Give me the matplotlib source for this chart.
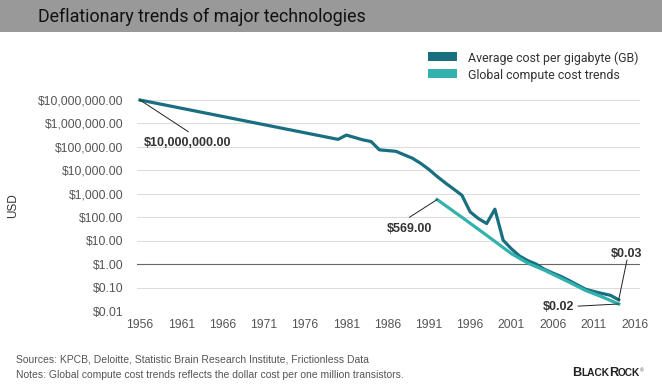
import numpy as np
import matplotlib.pyplot as plt
from matplotlib.patches import FancyBboxPatch, Rectangle

# data
gb_years = [1956, 1980, 1981, 1983, 1984, 1985, 1987, 1989, 1990, 1991, 1992, 1993, 1994,
            1995, 1996, 1997, 1998, 1999, 2000, 2001, 2002, 2003, 2004, 2005, 2006, 2007,
            2008, 2009, 2010, 2011, 2012, 2013, 2014]
gb_cost = [10000000, 210000, 320000, 200000, 170000, 75000, 65000, 33000, 20000, 11000, 5500,
           2900, 1600, 870, 170, 88, 54, 220, 10.5, 4.5, 2.2, 1.4, 1.0, 0.6, 0.42, 0.3,
           0.2, 0.13, 0.085, 0.068, 0.056, 0.047, 0.03]
cpu_years = [1992, 1995, 1998, 2001, 2003, 2005, 2008, 2010, 2012, 2014]
cpu_cost = [569, 100, 17, 2.8, 1.1, 0.55, 0.17, 0.075, 0.04, 0.02]

y_ticks = [0.01, 0.1, 1, 10, 100, 1000, 10000, 100000, 1000000, 10000000]
x_ticks = list(range(1956, 2017, 5))

dark = '#176f80'
teal = '#33b2ad'
txt = '#333333'

plt.rcParams['font.family'] = ['Liberation Sans', 'DejaVu Sans']

fig = plt.figure(figsize=(6.62, 3.84), dpi=100)
ax = fig.add_axes([0.207, 0.19, 0.76, 0.5495])

# title band, rounded at the top (inch coords)
W, H = 6.62, 3.84
fig.add_artist(FancyBboxPatch((0, H - 0.32), W, 0.5, boxstyle='round,pad=0,rounding_size=0.07',
                              transform=fig.dpi_scale_trans, fc='#999999', ec='none'))
fig.add_artist(Rectangle((0, H - 0.32), W, 0.2, transform=fig.dpi_scale_trans,
                         fc='#999999', ec='none'))
fig.text(38 / 662, 1 - 17 / 384, 'Deflationary trends of major technologies', family='Roboto',
         fontsize=12.9, color='#111111', va='center', ha='left')

ax.plot(gb_years, gb_cost, color=dark, lw=2.3, clip_on=False, zorder=3)
ax.plot(cpu_years, cpu_cost, color=teal, lw=2.3, clip_on=False, zorder=4)

ax.set_yscale('log')
ax.set_ylim(0.01, 10000000)
ax.set_xlim(1955.64, 2016.6)
ax.set_yticks(y_ticks)
ax.set_yticklabels(['$' + format(v, ',.2f') for v in y_ticks])
ax.minorticks_off()
ax.set_xticks(x_ticks)
ax.tick_params(length=0, labelsize=8.7, labelcolor='#555555')
ax.tick_params(axis='y', pad=10)
ax.tick_params(axis='x', pad=6)
for s in ax.spines.values():
    s.set_visible(False)
for v in y_ticks:
    ax.axhline(v, color='#666666' if v == 1 else '#dddddd', lw=0.8, zorder=1)
ax.set_ylabel('USD', fontsize=8.5, color='#333333')
ax.yaxis.set_label_coords(-0.235, 0.5)

# callouts
lead = dict(color='#222222', lw=0.7, zorder=5, clip_on=False)
lab = dict(fontsize=9, weight='bold', color=txt, ha='center', va='center')
ax.plot([1956, 1961.85], [1e7, 10 ** 5.65], **lead)
ax.text(1961.8, 10 ** 5.15, '$10,000,000.00', **lab)
ax.plot([1992, 1988.65], [569, 100], **lead)
ax.text(1988.6, 10 ** 1.48, '$569.00', **lab)
ax.plot([2014, 2015.0], [0.03, 10 ** 0.17], **lead)
ax.text(2015.0, 10 ** 0.43, '$0.03', **lab)
ax.plot([2009.1, 2014], [10 ** -1.79, 0.02], **lead)
ax.text(2006.7, 10 ** -1.84, '$0.02', **lab)

# legend
fig.add_artist(Rectangle((428 / 662, 1 - 61 / 384), 29 / 662, 9 / 384, fc=dark, ec='none'))
fig.add_artist(Rectangle((428 / 662, 1 - 78 / 384), 29 / 662, 9 / 384, fc=teal, ec='none'))
fig.text(468 / 662, 1 - 58 / 384, 'Average cost per gigabyte (GB)', family='Roboto', fontsize=8.9,
         color=txt, va='center')
fig.text(468 / 662, 1 - 75 / 384, 'Global compute cost trends', family='Roboto', fontsize=8.9,
         color=txt, va='center')

# footer
fig.text(16 / 662, 1 - 360 / 384, 'Sources: KPCB, Deloitte, Statistic Brain Research Institute, Frictionless Data',
         fontsize=7.5, color='#555555', va='center')
fig.text(16 / 662, 1 - 375 / 384, 'Notes: Global compute cost trends reflects the dollar cost per one million transistors.',
         fontsize=7.5, color='#555555', va='center')

# logo in small caps, pieces laid side by side
r = fig.canvas.get_renderer()
x = 572
for s, size in [('B', 9.2), ('LACK', 7.3), ('R', 9.2), ('OCK', 7.3)]:
    t = fig.text(x / 662, 1 - 376 / 384, s, fontsize=size, weight='bold', color='#222222',
                 va='baseline', ha='left')
    x += t.get_window_extent(r).width - 0.3
fig.text((x + 0.5) / 662, 1 - 368 / 384, '®', fontsize=3.5, color='#444444', va='top', ha='left')

fig.savefig('out.png', dpi=100)
